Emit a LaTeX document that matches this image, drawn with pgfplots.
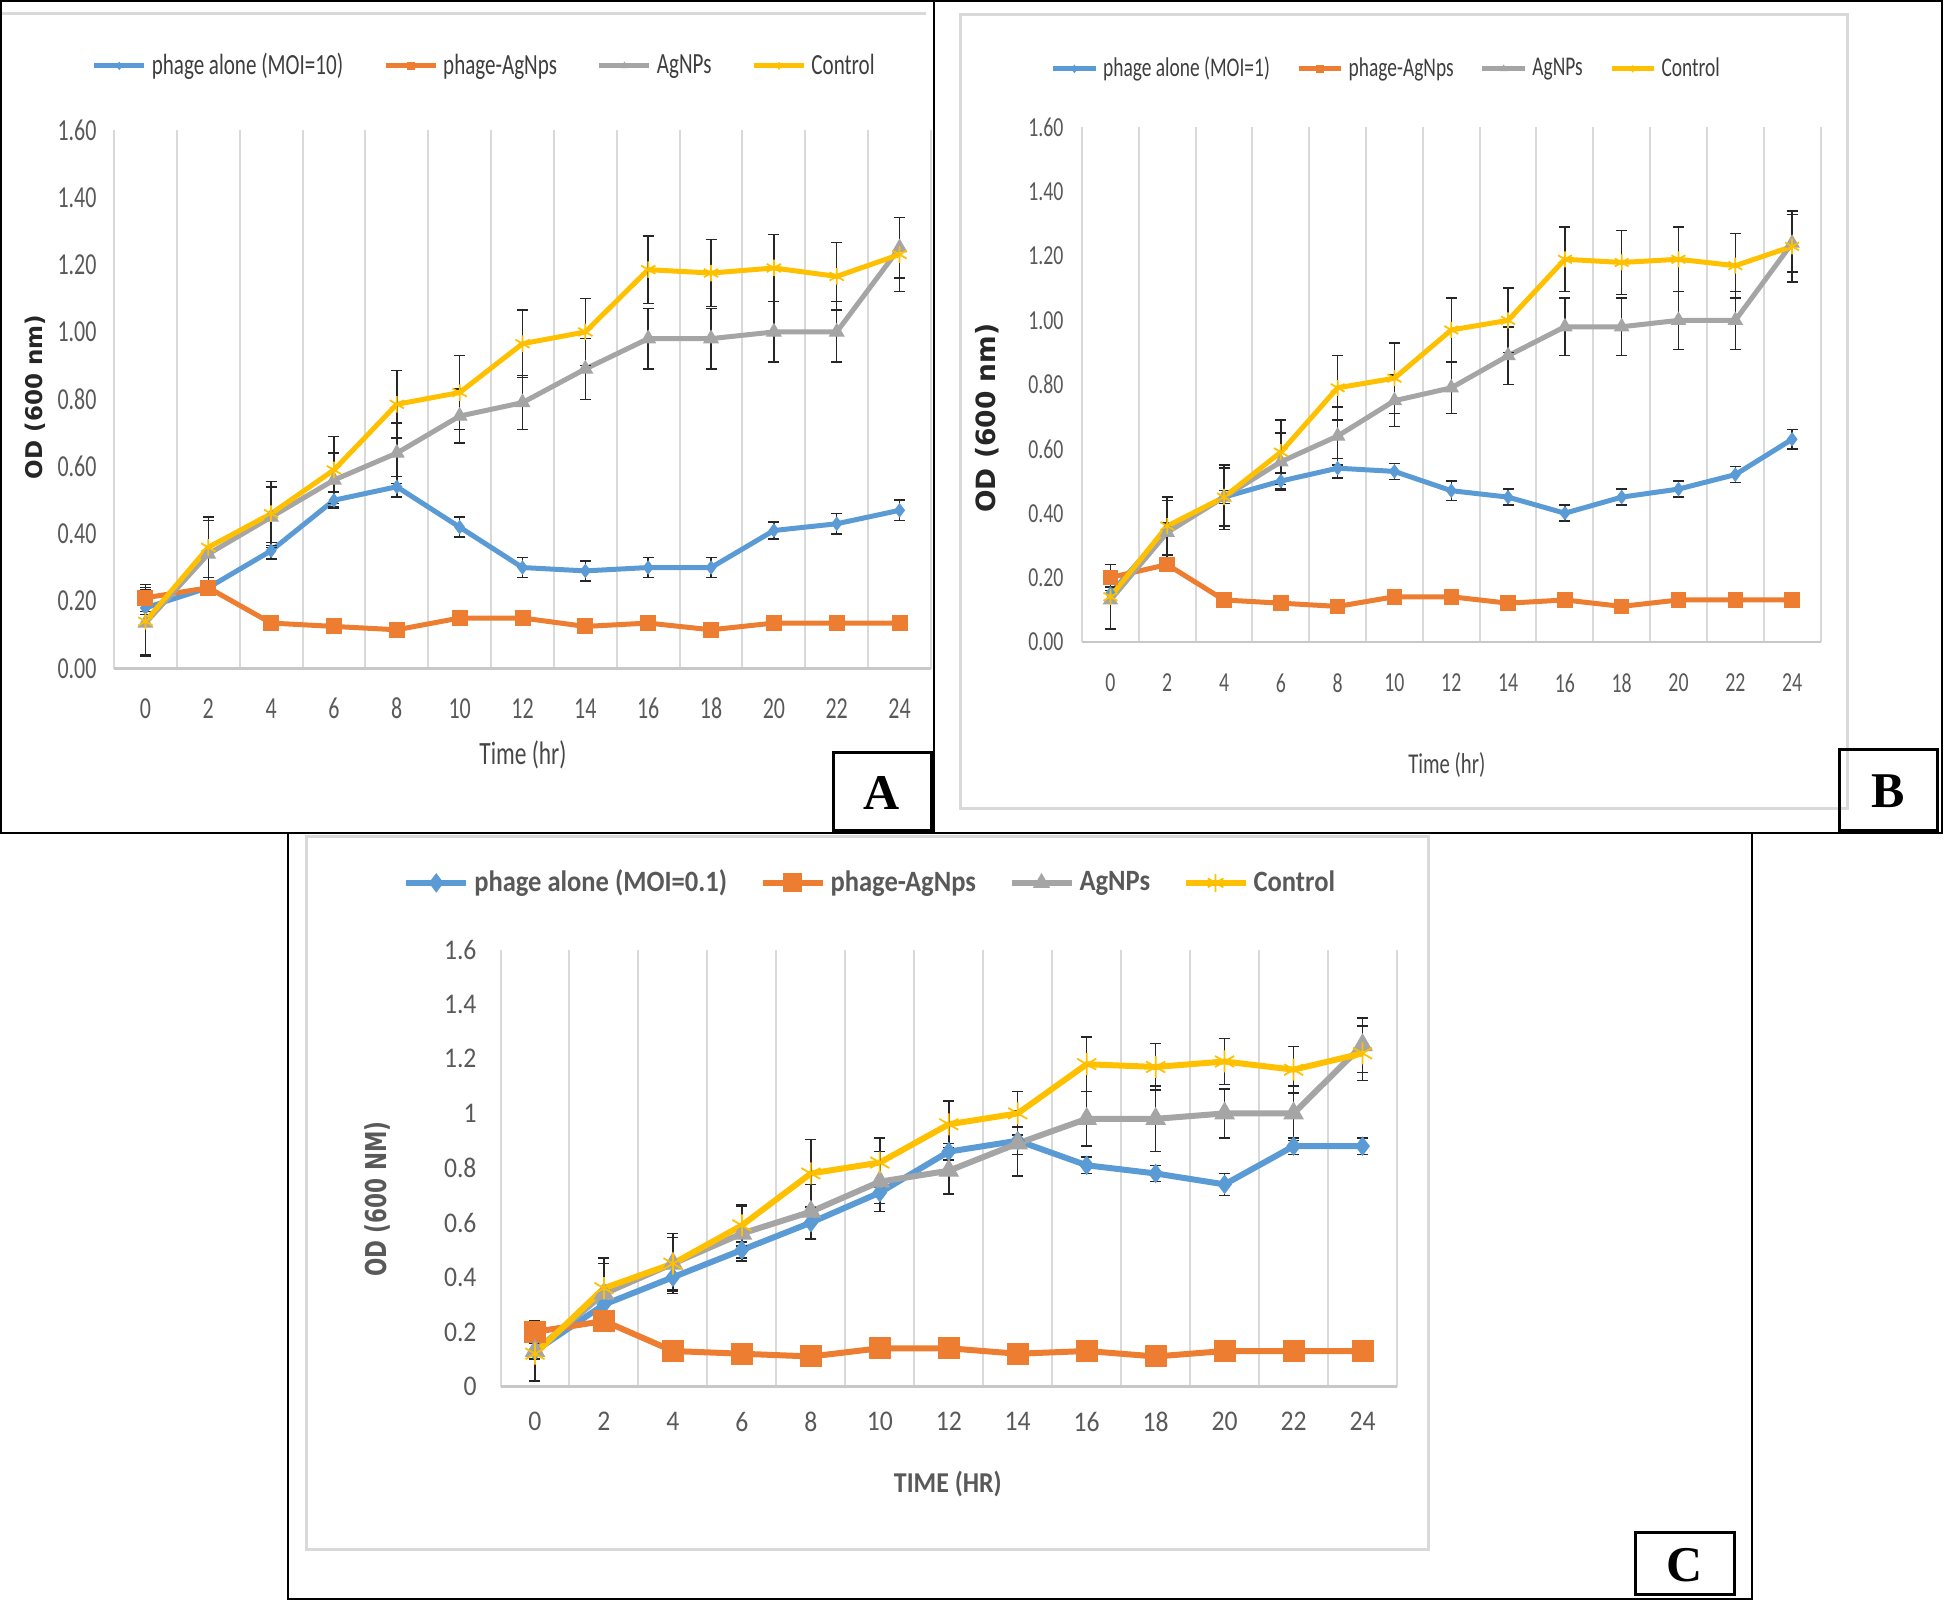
\documentclass[border=0pt]{standalone}
\usepackage{fontspec}
\usepackage{pgfplots}
\usepackage{pgfplotstable}
\pgfplotsset{compat=1.18}
\setmainfont{Carlito}
\newfontfamily\fAB{Carlito}[FakeStretch=0.72]
\newfontfamily\fC{Carlito}[FakeStretch=0.9]
\newfontfamily\fY{DejaVu Sans}
\newfontfamily\fYC{DejaVu Sans}[FakeStretch=0.75]
\newfontfamily\fBox{Liberation Serif}

\definecolor{cBlue}{HTML}{5B9BD5}
\definecolor{cOrange}{HTML}{ED7D31}
\definecolor{cGray}{HTML}{A5A5A5}
\definecolor{cGold}{HTML}{FFC000}
\definecolor{cGrid}{HTML}{D9D9D9}
\definecolor{cAxis}{HTML}{C8C8C8}
\definecolor{cTxt}{HTML}{595959}

% t = time (hr); blue = phage alone, orange = phage-AgNps, gray = AgNPs, ctrl = Control; e* = error
\pgfplotstableread{
t  blue  eb    orange eo   gray  eg    ctrl  ec
0  0.18  0.02  0.21  0.04  0.135 0.10  0.14  0.10
2  0.24  0.02  0.24  0.02  0.34  0.10  0.36  0.09
4  0.35  0.025 0.135 0.01  0.45  0.09  0.46  0.095
6  0.50  0.025 0.125 0.01  0.56  0.08  0.59  0.10
8  0.54  0.03  0.115 0.01  0.64  0.09  0.785 0.10
10 0.42  0.03  0.15  0.01  0.75  0.08  0.82  0.11
12 0.30  0.03  0.15  0.01  0.79  0.08  0.965 0.10
14 0.29  0.03  0.125 0.01  0.89  0.09  1.00  0.10
16 0.30  0.03  0.135 0.01  0.98  0.09  1.185 0.10
18 0.30  0.03  0.115 0.01  0.98  0.09  1.175 0.10
20 0.41  0.025 0.135 0.01  1.00  0.09  1.19  0.10
22 0.43  0.03  0.135 0.01  1.00  0.09  1.165 0.10
24 0.47  0.03  0.135 0.01  1.25  0.09  1.23  0.11
}\dataA

\pgfplotstableread{
t  blue  eb    orange eo   gray  eg    ctrl  ec
0  0.15  0.02  0.20  0.04  0.13  0.09  0.14  0.10
2  0.35  0.02  0.24  0.02  0.34  0.10  0.36  0.09
4  0.45  0.02  0.13  0.01  0.45  0.10  0.45  0.09
6  0.50  0.025 0.12  0.01  0.56  0.09  0.59  0.10
8  0.54  0.03  0.11  0.01  0.64  0.09  0.79  0.10
10 0.53  0.025 0.14  0.01  0.75  0.08  0.82  0.11
12 0.47  0.03  0.14  0.01  0.79  0.08  0.97  0.10
14 0.45  0.025 0.12  0.01  0.89  0.09  1.00  0.10
16 0.40  0.025 0.13  0.01  0.98  0.09  1.19  0.10
18 0.45  0.025 0.11  0.01  0.98  0.09  1.18  0.10
20 0.475 0.025 0.13  0.01  1.00  0.09  1.19  0.10
22 0.52  0.025 0.13  0.01  1.00  0.09  1.17  0.10
24 0.63  0.03  0.13  0.01  1.24  0.09  1.23  0.11
}\dataB

\pgfplotstableread{
t  blue  eb    orange eo   gray  eg    ctrl  ec
0  0.13  0.03  0.20  0.03  0.13  0.11  0.12  0.10
2  0.30  0.03  0.24  0.02  0.34  0.11  0.36  0.11
4  0.40  0.05  0.13  0.01  0.45  0.095 0.45  0.11
6  0.50  0.03  0.12  0.01  0.56  0.10  0.59  0.075
8  0.60  0.06  0.11  0.01  0.64  0.10  0.78  0.125
10 0.71  0.04  0.14  0.01  0.75  0.11  0.82  0.09
12 0.86  0.03  0.14  0.01  0.79  0.085 0.96  0.085
14 0.90  0.05  0.12  0.01  0.89  0.12  1.00  0.08
16 0.81  0.03  0.13  0.01  0.98  0.10  1.18  0.10
18 0.78  0.03  0.11  0.01  0.98  0.12  1.17  0.085
20 0.74  0.04  0.13  0.01  1.00  0.09  1.19  0.085
22 0.88  0.03  0.13  0.01  1.00  0.10  1.16  0.085
24 0.88  0.03  0.13  0.01  1.25  0.10  1.22  0.10
}\dataC

\pgfplotsset{
  growth/.style={
    scale only axis, clip=false,
    xmin=-1, xmax=25, ymin=0, ymax=1.6,
    xtick={0,2,...,24},
    minor xtick={-1,1,...,25}, xminorgrids,
    minor x grid style={draw=cGrid, line width=0.8pt},
    ytick={0,0.2,0.4,0.6,0.8,1.0,1.2,1.4,1.6},
    extra y ticks={0}, extra y tick labels={},
    extra y tick style={grid=major, major grid style={draw=cAxis, line width=0.9pt}},
    axis line style={draw=none},
    major tick length=0pt, minor tick length=0pt,
    tick label style={text=cTxt, inner sep=0pt},
    xticklabel style={anchor=center},
    yticklabel style={anchor=east},
    /pgf/number format/assume math mode=true,
    legend columns=4,
    legend cell align=left,
    legend style={draw=none, fill=none, anchor=center, text=cTxt},
    legend image code/.code={\draw[mark repeat=2,mark phase=2,##1,mark size=\lgms]
      plot coordinates {(0pt,0pt) ({0.5*\lgw},0pt) (\lgw,0pt)};},
    error bars/y dir=both, error bars/y explicit,
    error bars/error bar style={black!85, line width=0.6pt},
    error bars/error mark options={rotate=90, mark size=2.2pt, black!85, line width=0.6pt},
  },
  sBlue/.style={color=cBlue, line width=\lw, mark=diamond*, mark size=\msd,
    mark options={fill=cBlue, draw=cBlue, line width=0.4pt}},
  sOrange/.style={color=cOrange, line width=\lw, mark=square*, mark size=\ms,
    mark options={fill=cOrange, draw=cOrange, line width=0.4pt}},
  sGray/.style={color=cGray, line width=\lw, mark=triangle*, mark size=\mst,
    mark options={fill=cGray, draw=cGray, line width=0.4pt}},
  sGold/.style={color=cGold, line width=\lw, mark=asterisk, mark size=\mst,
    mark options={draw=cGold, line width=0.7pt}},
}

\begin{document}
\begin{tikzpicture}
\useasboundingbox (0,0) rectangle (777.6pt,640.8pt);

% frames and panel letters, in pixel units of the reference
\begin{scope}[x=0.4pt,y=-0.4pt,shift={(0pt,640.8pt)}]
  \draw[cGrid, line width=1.2pt] (2,14) -- (926,14);
  \draw[cGrid, line width=1.2pt] (960,15) rectangle (1847,809);
  \draw[cGrid, line width=1.2pt] (306,837) rectangle (1428,1550);
  \draw[black, line width=0.9pt] (1,1) rectangle (934,833);
  \draw[black, line width=0.9pt] (934,1) rectangle (1942,833);
  \draw[black, line width=0.9pt] (288,833) rectangle (1752,1599);
  \draw[black, line width=1.2pt] (833,753) rectangle (931,831);
  \draw[black, line width=1.2pt] (1839,750) rectangle (1937,831);
  \draw[black, line width=1.2pt] (1635,1533) rectangle (1734,1595);
  \node[font=\fBox\bfseries\fontsize{20}{22}\selectfont] at (882,793) {A};
  \node[font=\fBox\bfseries\fontsize{20}{22}\selectfont] at (1888,791) {B};
  \node[font=\fBox\bfseries\fontsize{20}{22}\selectfont] at (1684.5,1565) {C};
\end{scope}

% ---------- A ----------
\def\lw{2pt}\def\ms{3pt}\def\msd{2.6pt}\def\mst{3.3pt}\def\lgw{20pt}\def\lgms{1.4pt}
\begin{axis}[growth,
  at={(45.6pt,373.4pt)}, anchor=south west,
  width=326.8pt, height=215.4pt,
  tick label style={font=\fAB\fontsize{12.2}{14}\selectfont},
  xticklabel style={yshift=-16pt},
  yticklabel style={xshift=-6.8pt,
    /pgf/number format/fixed, /pgf/number format/fixed zerofill, /pgf/number format/precision=2},
  xlabel={Time (hr)},
  xlabel style={font=\fAB\fontsize{13}{15}\selectfont, text=cTxt!80!black,
    at={(axis description cs:0.5006,-0.161)}, anchor=center},
  ylabel={OD (600 nm)},
  ylabel style={font=\fY\bfseries\fontsize{9.2}{11}\selectfont, text=black!85,
    at={(axis description cs:-0.0967,0.504)}, anchor=center},
  legend style={font=\fAB\fontsize{11.7}{14}\selectfont, text=cTxt!70!black,
    at={(axis description cs:0.455,1.119)},
    /tikz/every even column/.append style={column sep=14pt}},
]
\addplot[sBlue] table[x=t, y=blue, y error=eb] {\dataA};
\addplot[sOrange] table[x=t, y=orange, y error=eo] {\dataA};
\addplot[sGray] table[x=t, y=gray, y error=eg] {\dataA};
\addplot[sGold] table[x=t, y=ctrl, y error=ec] {\dataA};
\legend{phage alone (MOI=10), phage-AgNps, AgNPs, Control}
\end{axis}

% ---------- B ----------
\def\lw{2pt}\def\ms{2.9pt}\def\msd{2.6pt}\def\mst{3.2pt}\def\lgw{17pt}\def\lgms{1.4pt}
\begin{axis}[growth,
  at={(432.8pt,384.1pt)}, anchor=south west,
  width=295.4pt, height=205.7pt,
  tick label style={font=\fAB\fontsize{11}{13}\selectfont},
  xticklabel style={yshift=-16.5pt},
  yticklabel style={xshift=-7.2pt,
    /pgf/number format/fixed, /pgf/number format/fixed zerofill, /pgf/number format/precision=2},
  xlabel={Time (hr)},
  xlabel style={font=\fAB\fontsize{11.5}{13}\selectfont, text=cTxt!80!black,
    at={(axis description cs:0.494,-0.240)}, anchor=center},
  ylabel={OD (600 nm)},
  ylabel style={font=\fY\bfseries\fontsize{10.6}{12}\selectfont, text=black!85,
    at={(axis description cs:-0.1286,0.435)}, anchor=center},
  legend style={font=\fAB\fontsize{10.8}{13}\selectfont, text=cTxt!70!black,
    at={(axis description cs:0.414,1.114)},
    /tikz/every even column/.append style={column sep=8.5pt}},
]
\addplot[sBlue] table[x=t, y=blue, y error=eb] {\dataB};
\addplot[sOrange] table[x=t, y=orange, y error=eo] {\dataB};
\addplot[sGray] table[x=t, y=gray, y error=eg] {\dataB};
\addplot[sGold] table[x=t, y=ctrl, y error=ec] {\dataB};
\legend{phage alone (MOI=1), phage-AgNps, AgNPs, Control}
\end{axis}

% ---------- C ----------
\def\lw{2.4pt}\def\ms{4.2pt}\def\msd{3.6pt}\def\mst{4.4pt}\def\lgw{24pt}\def\lgms{3.6pt}
\begin{axis}[growth,
  at={(200.2pt,86.2pt)}, anchor=south west,
  width=358.6pt, height=174.8pt,
  tick label style={font=\fC\fontsize{11.4}{13}\selectfont},
  xticklabel style={yshift=-14pt},
  yticklabel style={xshift=-9.4pt},
  xlabel={TIME (HR)},
  xlabel style={font=\fC\bfseries\fontsize{11.5}{13}\selectfont, text=cTxt,
    at={(axis description cs:0.499,-0.2234)}, anchor=center},
  ylabel={OD (600 NM)},
  ylabel style={font=\fYC\bfseries\fontsize{11.5}{13}\selectfont, text=cTxt,
    at={(axis description cs:-0.1368,0.429)}, anchor=center},
  legend style={font=\fC\bfseries\fontsize{11.8}{14}\selectfont, text=cTxt,
    at={(axis description cs:0.414,1.1525)},
    /tikz/every even column/.append style={column sep=11pt}},
]
\addplot[sBlue] table[x=t, y=blue, y error=eb] {\dataC};
\addplot[sOrange] table[x=t, y=orange, y error=eo] {\dataC};
\addplot[sGray] table[x=t, y=gray, y error=eg] {\dataC};
\addplot[sGold] table[x=t, y=ctrl, y error=ec] {\dataC};
\legend{phage alone (MOI=0.1), phage-AgNps, AgNPs, Control}
\end{axis}
\end{tikzpicture}
\end{document}
